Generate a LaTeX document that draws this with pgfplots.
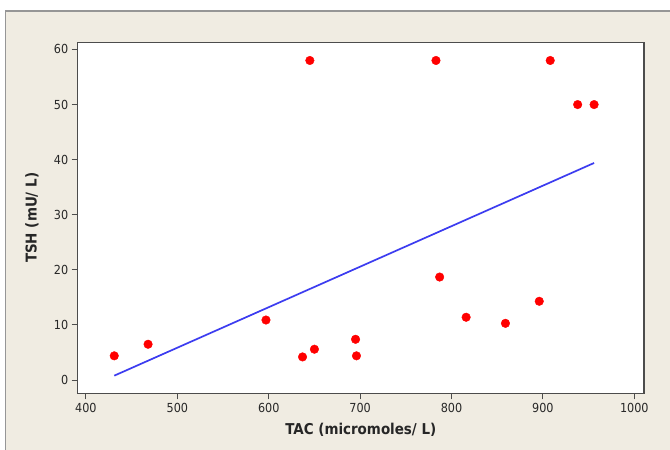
\documentclass[border=0pt]{standalone}
\usepackage{pgfplots}
\pgfplotsset{compat=1.18}
\usepackage{fontspec}
\setmainfont{DejaVu Sans Condensed}
\definecolor{panel}{RGB}{240,236,226}
\definecolor{edge}{RGB}{150,150,150}
\definecolor{fitblue}{RGB}{60,60,240}
\definecolor{ticktext}{RGB}{40,40,40}
\begin{document}
\begin{tikzpicture}
% page: 670 x 450 bp, axis box lower left at (0,0)
\useasboundingbox (-77.7bp,-56.7bp) rectangle (592.3bp,393.3bp);
\fill[white] (-77.7bp,-56.7bp) rectangle (592.3bp,393.3bp);
\fill[panel] (-72.4bp,-56.7bp) rectangle (592.3bp,382.3bp);
\draw[edge,line width=1.2bp] (-72.4bp,-56.7bp) -- (-72.4bp,382.3bp) -- (592.3bp,382.3bp);
\begin{axis}[
  scale only axis,
  width=566.3bp,
  height=351bp,
  xmin=391, xmax=1010.6,
  ymin=-2.4, ymax=61.3,
  xtick={400,500,...,1000},
  ytick={0,10,...,60},
  tick align=outside,
  xtick pos=bottom,
  ytick pos=left,
  major tick length=6bp,
  every tick/.style={draw=black!70, line width=1bp},
  axis background/.style={fill=white},
  axis line style={draw=black!70, line width=1.3bp},
  tick label style={font=\fontsize{12.5}{13}\selectfont, text=ticktext},
  /pgf/number format/assume math mode=true,
  /pgf/number format/1000 sep={},
  xlabel={TAC (micromoles/ L)},
  ylabel={TSH (mU/ L)},
  label style={font=\bfseries\fontsize{15}{15}\selectfont, text=black!85},
  xlabel style={at={(axis description cs:0.5,0)}, anchor=center, yshift=-36.7bp},
  ylabel style={at={(axis description cs:0,0.5)}, anchor=center, rotate=0, yshift=45.7bp},
]
% fitted line
\addplot[fitblue, line width=1.7bp] coordinates {(431,0.8) (956,39.4)};
% observations
\addplot[only marks, mark=*, mark size=4.3bp, draw=red, fill=red] coordinates {
  (431,4.4) (468,6.5) (597,10.9) (637,4.2) (650,5.6) (695,7.4) (696,4.4)
  (787,18.7) (816,11.4) (859,10.3) (896,14.3)
  (645,58) (783,58) (908,58) (938,50) (956,50)
};
\end{axis}
\end{tikzpicture}
\end{document}
